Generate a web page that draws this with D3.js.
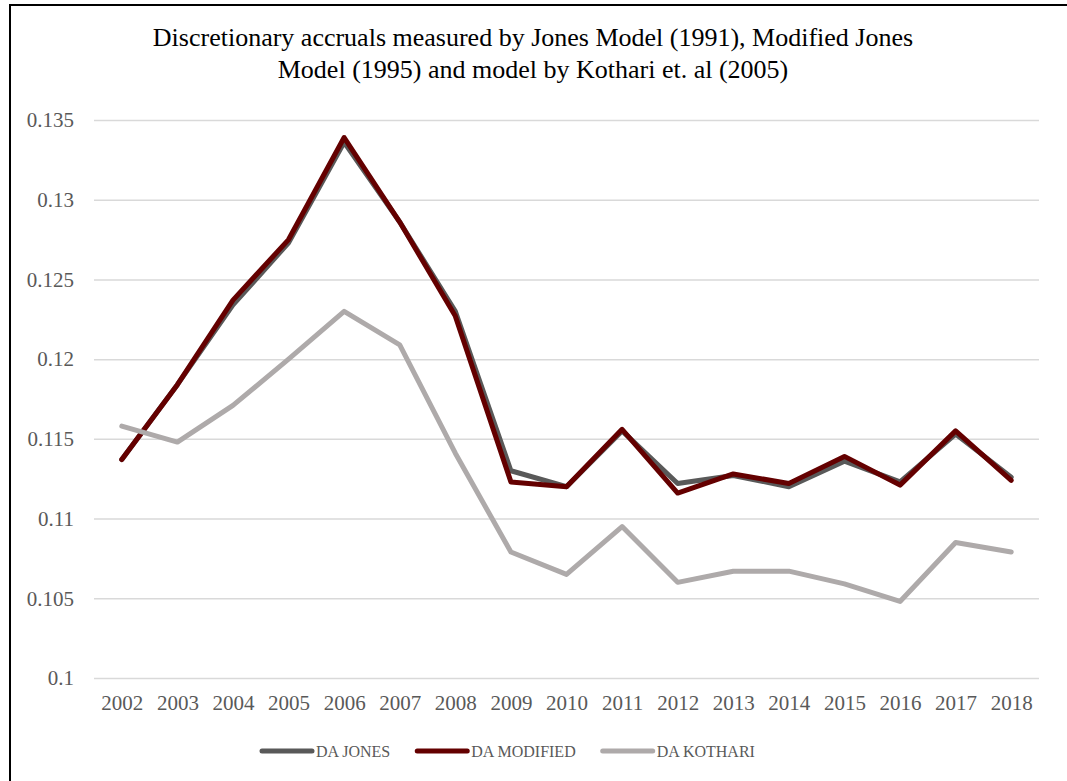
<!DOCTYPE html>
<html>
<head>
<meta charset="utf-8">
<script src="https://cdn.jsdelivr.net/npm/d3@7"></script>
<style>
  body { margin: 0; background: #fff; }
  text { font-family: "Liberation Serif", "Times New Roman", serif; }
</style>
</head>
<body>
<div id="chart"></div>
<script>
// chart data
const years = ["2002", "2003", "2004", "2005", "2006", "2007", "2008", "2009", "2010",
  "2011", "2012", "2013", "2014", "2015", "2016", "2017", "2018"];
const daJones = [0.1137, 0.1184, 0.1234, 0.1273, 0.1336, 0.1286, 0.1230, 0.1130, 0.1120,
  0.1155, 0.1122, 0.1127, 0.1120, 0.1136, 0.1123, 0.1153, 0.1126];
const daModified = [0.1137, 0.1184, 0.1237, 0.1275, 0.1339, 0.1286, 0.1227, 0.1123, 0.1120,
  0.1156, 0.1116, 0.1128, 0.1122, 0.1139, 0.1121, 0.1155, 0.1124];
const daKothari = [0.1158, 0.1148, 0.1171, 0.1200, 0.1230, 0.1209, 0.1141, 0.1079, 0.1065,
  0.1095, 0.1060, 0.1067, 0.1067, 0.1059, 0.1048, 0.1085, 0.1079];
const yTicks = [0.1, 0.105, 0.11, 0.115, 0.12, 0.125, 0.13, 0.135];
const seriesNames = ["DA JONES", "DA MODIFIED", "DA KOTHARI"];
const titleLines = ["Discretionary accruals measured by Jones Model (1991), Modified Jones",
  "Model (1995) and model by Kothari et. al (2005)"];

const W = 1067, H = 781;
const margin = { top: 120, right: 28, bottom: 103, left: 94 };
const width = W - margin.left - margin.right,
  height = H - margin.top - margin.bottom;

const colors = ["#595959", "#640000", "#aeaaaa"];
const series = [daJones, daModified, daKothari];

const svg = d3.select("#chart")
  .append("svg")
  .attr("width", W)
  .attr("height", H);

// outer frame (cut off at right and bottom like the picture)
svg.append("rect")
  .attr("x", 10).attr("y", 5)
  .attr("width", W + 20).attr("height", H + 20)
  .attr("fill", "none")
  .attr("stroke", "#000")
  .attr("stroke-width", 2);

// title
svg.append("text")
  .attr("text-anchor", "middle")
  .attr("fill", "#000")
  .style("font-size", "26px")
  .selectAll("tspan")
  .data(titleLines)
  .join("tspan")
  .attr("x", 533)
  .attr("y", (d, i) => 46 + i * 32)
  .text(d => d);

const g = svg.append("g")
  .attr("transform", `translate(${margin.left},${margin.top})`);

const x = d3.scalePoint().domain(years).range([0, width]).padding(0.5);
const y = d3.scaleLinear().domain([0.1, 0.135]).range([height, 0]);

// y axis + gridlines
const yAxis = d3.axisLeft(y)
  .tickValues(yTicks)
  .tickSize(-width)
  .tickPadding(20)
  .tickFormat(d => String(+d.toFixed(3)));
const yg = g.append("g").call(yAxis);
yg.select(".domain").remove();
yg.selectAll(".tick line").attr("stroke", "#d9d9d9").attr("stroke-width", 1.5);
yg.selectAll(".tick text")
  .attr("fill", "#595959")
  .style("font-size", "21px")
  .style("font-family", "'Liberation Serif', serif");

// x axis
const xg = g.append("g")
  .attr("transform", `translate(0,${height})`)
  .call(d3.axisBottom(x).tickSize(0).tickPadding(17));
xg.select(".domain").remove();
xg.selectAll(".tick text")
  .attr("fill", "#595959")
  .style("font-size", "21px")
  .style("font-family", "'Liberation Serif', serif");

// lines
const line = d3.line()
  .x((d, i) => x(years[i]))
  .y(d => y(d));

g.selectAll(".series")
  .data(series)
  .join("path")
  .attr("class", "series")
  .attr("d", line)
  .attr("fill", "none")
  .attr("stroke", (d, i) => colors[i])
  .attr("stroke-width", 5)
  .attr("stroke-linejoin", "round")
  .attr("stroke-linecap", "round");

// legend
const legend = svg.append("g").attr("transform", "translate(0,751)");
let lx = 262;
seriesNames.forEach((name, i) => {
  const item = legend.append("g").attr("transform", `translate(${lx},0)`);
  item.append("line")
    .attr("x1", 0).attr("x2", 50)
    .attr("y1", 0).attr("y2", 0)
    .attr("stroke", colors[i])
    .attr("stroke-width", 5)
    .attr("stroke-linecap", "round");
  const t = item.append("text")
    .attr("x", 54)
    .attr("dy", "0.35em")
    .attr("fill", "#595959")
    .style("font-size", "16px")
    .text(name);
  lx += 54 + t.node().getComputedTextLength() + 27;
});
</script>
</body>
</html>
